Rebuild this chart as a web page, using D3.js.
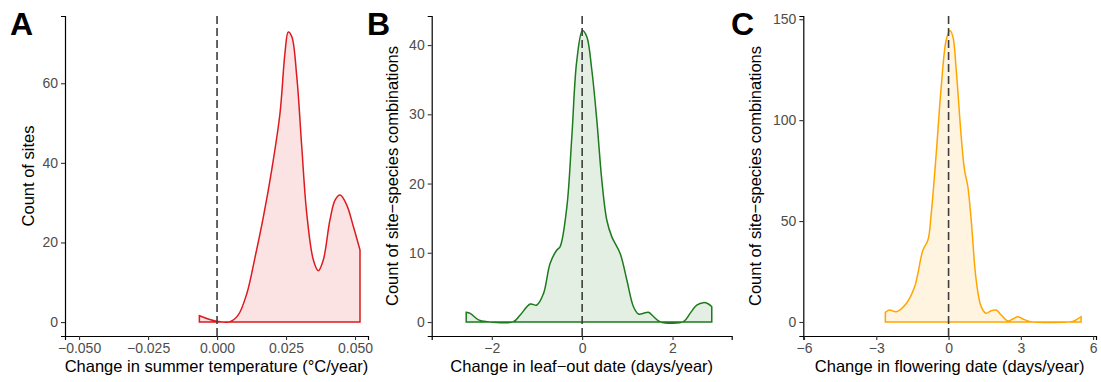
<!DOCTYPE html>
<html lang="en">
<head>
  <meta charset="UTF-8">
  <title>Change in temperature, leaf-out and flowering</title>
  <script src="https://d3js.org/d3.v7.min.js"></script>
  <style>
    body { margin: 0; background: #fff; }
    text { font-family: "Liberation Sans", Arial, sans-serif; }
  </style>
</head>
<body>
  <div id="chart"></div>
  <script>
    // Panel A: change in summer temperature (°C/year) vs count of sites
    const tempX = [-0.0064, -0.0001, 0.0047, 0.0077, 0.0108, 0.0138, 0.0168, 0.0198, 0.0228, 0.0246, 0.0258, 0.0271,
                   0.0289, 0.0307, 0.0325, 0.0349, 0.0367, 0.0385, 0.0409, 0.0428, 0.0446, 0.047, 0.0494, 0.0518];
    const tempCount = [1.6, 0.2, 0.1, 1.8, 7.2, 16.4, 26.5, 38.2, 52.4, 67.5, 72.9, 71.7,
                       61.6, 44, 27.3, 15.6, 12.9, 15.6, 25.6, 30.7, 31.9, 29.4, 24, 18.1];
    const tempTicksX = [-0.05, -0.025, 0, 0.025, 0.05];
    const tempTicksY = [0, 20, 40, 60];

    // Panel B: change in leaf-out date (days/year)
    const leafX = [-2.566, -2.478, -2.294, -2.11, -1.52, -1.372, -1.15, -1.003, -0.856, -0.708, -0.56, -0.487, -0.339,
                   -0.228, -0.118, 0.007, 0.103, 0.214, 0.324, 0.435, 0.546, 0.657, 0.841, 0.988, 1.136, 1.246,
                   1.357, 1.467, 1.578, 1.726, 2.241, 2.389, 2.537, 2.684, 2.795, 2.869];
    const leafCount = [1.4, 1.25, 0.3, 0.05, 0.05, 1.0, 2.6, 2.45, 4.1, 8.5, 10.4, 10.9, 16.6,
                       26.8, 37.8, 42.1, 41.2, 36.4, 29.2, 20.5, 14.7, 12.3, 9.9, 6.1, 2.2, 1.15,
                       1.25, 1.4, 0.8, 0.05, 0.05, 1.25, 2.45, 2.8, 2.6, 2.2];
    const leafTicksX = [-2, 0, 2];
    const leafTicksY = [0, 10, 20, 30, 40];

    // Panel C: change in flowering date (days/year)
    const flowerX = [-2.624, -2.445, -2.169, -1.754, -1.409, -1.063, -0.856, -0.718, -0.511, -0.304, -0.097, 0.06,
                     0.179, 0.318, 0.525, 0.663, 0.801, 0.939, 1.146, 1.354, 1.561, 1.768, 1.976, 2.183, 2.459,
                     2.666, 2.873, 3.08, 3.357, 5.151, 5.358, 5.5];
    const flowerCount = [4.8, 5.9, 5.1, 9.2, 17.4, 35.7, 40.6, 53.9, 83.6, 116.6, 139.7, 144.4,
                         141.4, 124.9, 91.8, 75.3, 67, 50.5, 20.8, 7.6, 4.3, 5.6, 5.9, 3.5, 0.5,
                         1.5, 2.6, 1.5, 0.3, 0.3, 1.5, 2.6];
    const flowerTicksX = [-6, -3, 0, 3, 6];
    const flowerTicksY = [0, 50, 100, 150];

    const panels = [
      { tag: "A", xs: tempX, ys: tempCount, xTicks: tempTicksX, yTicks: tempTicksY, xFmt: d3.format(".3f"),
        xDomain: [-0.0551, 0.0547], yDomain: [-3.5, 76.9], left: 65, right: 368, labelX: 28, tagX: 10,
        color: "#dd1a1e", fill: "rgba(221,26,30,0.12)",
        xTitle: "Change in summer temperature (°C/year)", yTitle: "Count of sites" },
      { tag: "B", xs: leafX, ys: leafCount, xTicks: leafTicksX, yTicks: leafTicksY, xFmt: d3.format("d"),
        xDomain: [-3.33, 3.31], yDomain: [-2.02, 44.2], left: 431.7, right: 731.7, labelX: 392, tagX: 367,
        color: "#1d7a1d", fill: "rgba(29,122,29,0.12)",
        xTitle: "Change in leaf\u2212out date (days/year)", yTitle: "Count of site\u2212species combinations" },
      { tag: "C", xs: flowerX, ys: flowerCount, xTicks: flowerTicksX, yTicks: flowerTicksY, xFmt: d3.format("d"),
        xDomain: [-6.03, 6.12], yDomain: [-6.94, 151.6], left: 803.3, right: 1096, labelX: 755, tagX: 731,
        color: "#ffa500", fill: "rgba(255,165,0,0.12)",
        xTitle: "Change in flowering date (days/year)", yTitle: "Count of site\u2212species combinations" }
    ];

    const width = 1101, height = 382;
    const plotTop = 16, plotBottom = 336;

    const svg = d3.select("#chart").append("svg")
      .attr("width", width)
      .attr("height", height);

    panels.forEach(p => {
      const x = d3.scaleLinear().domain(p.xDomain).range([p.left, p.right]);
      const y = d3.scaleLinear().domain(p.yDomain).range([plotBottom, plotTop]);
      const g = svg.append("g");

      // density curve, filled down to zero and outlined
      const pts = p.xs.map((v, i) => [v, p.ys[i]]);
      const area = d3.area()
        .x(d => x(d[0]))
        .y0(y(0))
        .y1(d => y(d[1]))
        .curve(d3.curveCatmullRom.alpha(0.5));
      g.append("path")
        .datum(pts)
        .attr("d", area)
        .attr("fill", p.fill)
        .attr("stroke", p.color)
        .attr("stroke-width", 1.5);

      // reference line at zero
      g.append("line")
        .attr("x1", x(0)).attr("x2", x(0))
        .attr("y1", plotTop).attr("y2", plotBottom)
        .attr("stroke", "#3d3d3d")
        .attr("stroke-width", 1.6)
        .attr("stroke-dasharray", "8,4");

      // axes
      const xAxis = g.append("g")
        .attr("transform", `translate(0,${plotBottom})`)
        .call(d3.axisBottom(x).tickValues(p.xTicks).tickFormat(p.xFmt).tickSizeOuter(0).tickSize(4).tickPadding(3));
      const yAxis = g.append("g")
        .attr("transform", `translate(${p.left},0)`)
        .call(d3.axisLeft(y).tickValues(p.yTicks).tickFormat(d3.format("d")).tickSizeOuter(0).tickSize(4).tickPadding(3));
      [xAxis, yAxis].forEach(a => {
        a.attr("font-size", null).attr("font-family", null);
        a.select(".domain").attr("stroke", "#000").attr("stroke-width", 1.2);
        a.selectAll(".tick line").attr("stroke", "#333").attr("stroke-width", 1.1);
        a.selectAll(".tick text").attr("fill", "#4d4d4d").style("font-size", "14px");
      });

      // titles
      g.append("text")
        .attr("x", (p.left + p.right) / 2)
        .attr("y", 372)
        .attr("text-anchor", "middle")
        .style("font-size", "16.5px")
        .text(p.xTitle);
      g.append("text")
        .attr("transform", `translate(${p.labelX + 6},${(plotTop + plotBottom) / 2}) rotate(-90)`)
        .attr("text-anchor", "middle")
        .style("font-size", "16.5px")
        .text(p.yTitle);

      // panel letter
      g.append("text")
        .attr("x", p.tagX)
        .attr("y", 35)
        .style("font-size", "32px")
        .style("font-weight", "bold")
        .text(p.tag);
    });
  </script>
</body>
</html>
